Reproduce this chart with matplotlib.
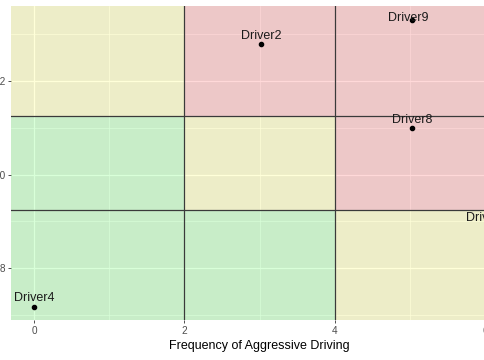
import numpy as np
import matplotlib
matplotlib.use("Agg")
import matplotlib.pyplot as plt

plt.rcParams['font.family'] = ['Liberation Sans', 'DejaVu Sans']

# data
drivers = ["Driver4", "Driver2", "Driver9", "Driver8", "Driver1"]
aggressive = [0, 3.02, 5.02, 5.02, 6.03]
score = [7.18, 12.78, 13.31, 11.0, 8.9]

x_breaks = [2, 4]
y_breaks = [9.25, 11.25]
# zone colours, rows from bottom to top, columns left to right
zones = [["#00FF00", "#00FF00", "#FFFF00"],
         ["#00FF00", "#FFFF00", "#FF0000"],
         ["#FFFF00", "#FF0000", "#FF0000"]]

# label offsets (points) above each point
label_dy = [6, 6, 1.5, 5.5, 6]
label_dx = [0, 0, -2.5, 0, -1]

fig = plt.figure(figsize=(4.85, 3.6), dpi=100)
ax = fig.add_axes([0.0235, 0.1125, 1.0241, 0.8708])
ax.set_xlim(-0.3, 6.3)
ax.set_ylim(6.906, 13.60)

ax.set_facecolor('#EBEBEB')
ax.set_axisbelow(True)
ax.set_xticks([0, 2, 4, 6])
ax.set_yticks([8, 10, 12])
ax.set_xticks([1, 3, 5], minor=True)
ax.set_yticks([7, 9, 11, 13], minor=True)
ax.grid(which='major', color='white', lw=0.9)
ax.grid(which='minor', color='white', lw=0.45)

xe = [-5] + x_breaks + [12]
ye = [0] + y_breaks + [25]
for i in range(3):
    for j in range(3):
        ax.fill_between([xe[j], xe[j + 1]], ye[i], ye[i + 1],
                        color=zones[i][j], alpha=0.15, lw=0, zorder=1)

for xb in x_breaks:
    ax.axvline(xb, color='#3a3a3a', lw=0.9, zorder=2)
for yb in y_breaks:
    ax.axhline(yb, color='#3a3a3a', lw=0.9, zorder=2)

ax.scatter(aggressive, score, s=9, color='black', zorder=3)
for name, xv, yv, dx, dy in zip(drivers, aggressive, score, label_dx, label_dy):
    ax.annotate(name, (xv, yv), xytext=(dx, dy), textcoords='offset points',
                ha='center', va='center', fontsize=9, color='#1a1a1a', zorder=4)

for s in ax.spines.values():
    s.set_visible(False)
ax.tick_params(which='major', length=2.5, width=0.6, color='#333333',
               labelsize=7.2, labelcolor='#4D4D4D', pad=2)
ax.tick_params(which='minor', length=0)
ax.set_yticklabels(['8', '10', '12'])
ax.set_xlabel('Frequency of Aggressive Driving', fontsize=9, color='black', labelpad=3)

fig.savefig('out.png', dpi=100)
